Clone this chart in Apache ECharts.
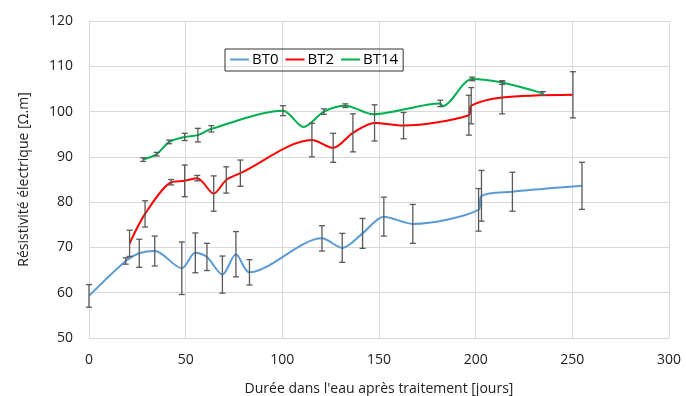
<!DOCTYPE html>
<html>
<head>
<meta charset="utf-8">
<script src="https://cdn.jsdelivr.net/npm/echarts@6/dist/echarts.min.js"></script>
<style>
  html, body { margin: 0; padding: 0; background: #fff; }
  #chart { width: 686px; height: 396px; }
</style>
</head>
<body>
<div id="chart"></div>
<script>
// BT0
const xBT0 = [0, 19, 26, 34, 48, 55, 61, 69, 76, 83, 120.5, 131, 141.5, 152.5, 167.5, 201.5, 203, 219, 255]
const yBT0 = [59.3, 67.0, 68.7, 69.2, 65.4, 68.8, 67.9, 64.0, 68.5, 64.5, 72.0, 69.9, 73.1, 76.8, 75.2, 78.3, 81.4, 82.3, 83.6]
const eBT0 = [2.5, 0.7, 3.1, 3.3, 5.8, 4.4, 3.0, 4.1, 5.0, 2.8, 2.8, 3.2, 3.3, 4.3, 4.3, 4.7, 5.6, 4.3, 5.2]

// BT2
const xBT2 = [21, 29, 42.5, 49.5, 56, 64.5, 71, 78.3, 115.3, 126.3, 136.5, 147.7, 162.7, 196.5, 197.7, 213.7, 250.3]
const yBT2 = [70.9, 77.4, 84.4, 84.7, 85.3, 81.9, 84.9, 86.4, 93.7, 92.0, 95.3, 97.5, 96.9, 99.2, 101.3, 103.1, 103.7]
const eBT2 = [2.9, 2.9, 0.6, 3.5, 0.6, 3.9, 2.9, 2.9, 3.7, 3.2, 4.2, 4.0, 2.9, 4.4, 4.0, 3.6, 5.1]

// BT14
const xBT14 = [28, 35, 41.5, 49.5, 56.3, 63.3, 100.3, 111, 121.5, 132.6, 147, 181.7, 183, 198.2, 213.7, 234.8]
const yBT14 = [89.4, 90.6, 93.3, 94.4, 94.8, 96.2, 100.2, 96.6, 100.0, 101.3, 99.4, 101.8, 101.2, 107.2, 106.4, 104.0]
const eBT14 = [0.4, 0.4, 0.4, 0.8, 1.5, 0.7, 1.1, 0, 0.6, 0.4, 0, 0.7, 0, 0.4, 0.4, 0.4]

const seriesNames = ['BT0', 'BT2', 'BT14']
const colors = ['#5B9BD5', '#FF0000', '#00B050']
const xTicks = [0, 50, 100, 150, 200, 250, 300]
const yTicks = [50, 60, 70, 80, 90, 100, 110, 120]

const FONT = '"Open Sans", sans-serif'
const TXT = '#222'

const sets = [
  [xBT0, yBT0, eBT0],
  [xBT2, yBT2, eBT2],
  [xBT14, yBT14, eBT14]
]

// barres d'erreur verticales avec petits chapeaux
function errRender (params, api) {
  const x = api.value(0)
  const lo = api.coord([x, api.value(1) - api.value(2)])
  const hi = api.coord([x, api.value(1) + api.value(2)])
  const cap = 3
  const style = { stroke: '#595959', lineWidth: 1.3 }
  return {
    type: 'group',
    children: [
      { type: 'line', shape: { x1: lo[0], y1: lo[1], x2: hi[0], y2: hi[1] }, style },
      { type: 'line', shape: { x1: lo[0] - cap, y1: lo[1], x2: lo[0] + cap, y2: lo[1] }, style },
      { type: 'line', shape: { x1: hi[0] - cap, y1: hi[1], x2: hi[0] + cap, y2: hi[1] }, style }
    ]
  }
}

const series = []
sets.forEach(([xs, ys, es], i) => {
  series.push({
    name: seriesNames[i],
    type: 'line',
    smooth: 0.3,
    showSymbol: false,
    symbol: 'none',
    lineStyle: { color: colors[i], width: 2 },
    itemStyle: { color: colors[i] },
    data: xs.map((x, k) => [x, ys[k]]),
    z: 2
  })
  series.push({
    type: 'custom',
    renderItem: errRender,
    data: xs.map((x, k) => [x, ys[k], es[k]]).filter(d => d[2] > 0),
    encode: { x: 0, y: 1 },
    silent: true,
    z: 3
  })
})

const chart = echarts.init(document.getElementById('chart'), null, { renderer: 'canvas' })
chart.setOption({
  animation: false,
  backgroundColor: '#fff',
  textStyle: { fontFamily: FONT },
  grid: { left: 89, right: 17, top: 21, bottom: 58, outerBoundsMode: 'none' },
  legend: {
    data: seriesNames,
    left: 225,
    top: 49,
    icon: 'rect',
    itemWidth: 19,
    itemHeight: 2,
    itemGap: 7,
    padding: [3, 5, 4, 5],
    borderColor: '#333',
    borderWidth: 1,
    textStyle: { color: '#000', fontSize: 15, fontFamily: FONT, padding: [0, 0, 0, -2] }
  },
  xAxis: {
    type: 'value',
    min: xTicks[0],
    max: xTicks[xTicks.length - 1],
    interval: 50,
    name: "Durée dans l'eau après traitement [jours]",
    nameLocation: 'middle',
    nameGap: 44,
    nameTextStyle: { color: TXT, fontSize: 14, fontFamily: FONT },
    axisLine: { show: true, lineStyle: { color: '#d9d9d9' } },
    axisTick: { show: false },
    axisLabel: { color: TXT, fontSize: 14, margin: 15, fontFamily: FONT },
    splitLine: { show: true, lineStyle: { color: '#d9d9d9' } }
  },
  yAxis: {
    type: 'value',
    min: yTicks[0],
    max: yTicks[yTicks.length - 1],
    interval: 10,
    name: 'Résistivité électrique [Ω.m]',
    nameLocation: 'middle',
    nameGap: 58,
    nameTextStyle: { color: TXT, fontSize: 14, fontFamily: FONT },
    axisLine: { show: true, lineStyle: { color: '#d9d9d9' } },
    axisTick: { show: false },
    axisLabel: { color: TXT, fontSize: 14, margin: 16, fontFamily: FONT },
    splitLine: { show: true, lineStyle: { color: '#d9d9d9' } }
  },
  series
})
</script>
</body>
</html>
